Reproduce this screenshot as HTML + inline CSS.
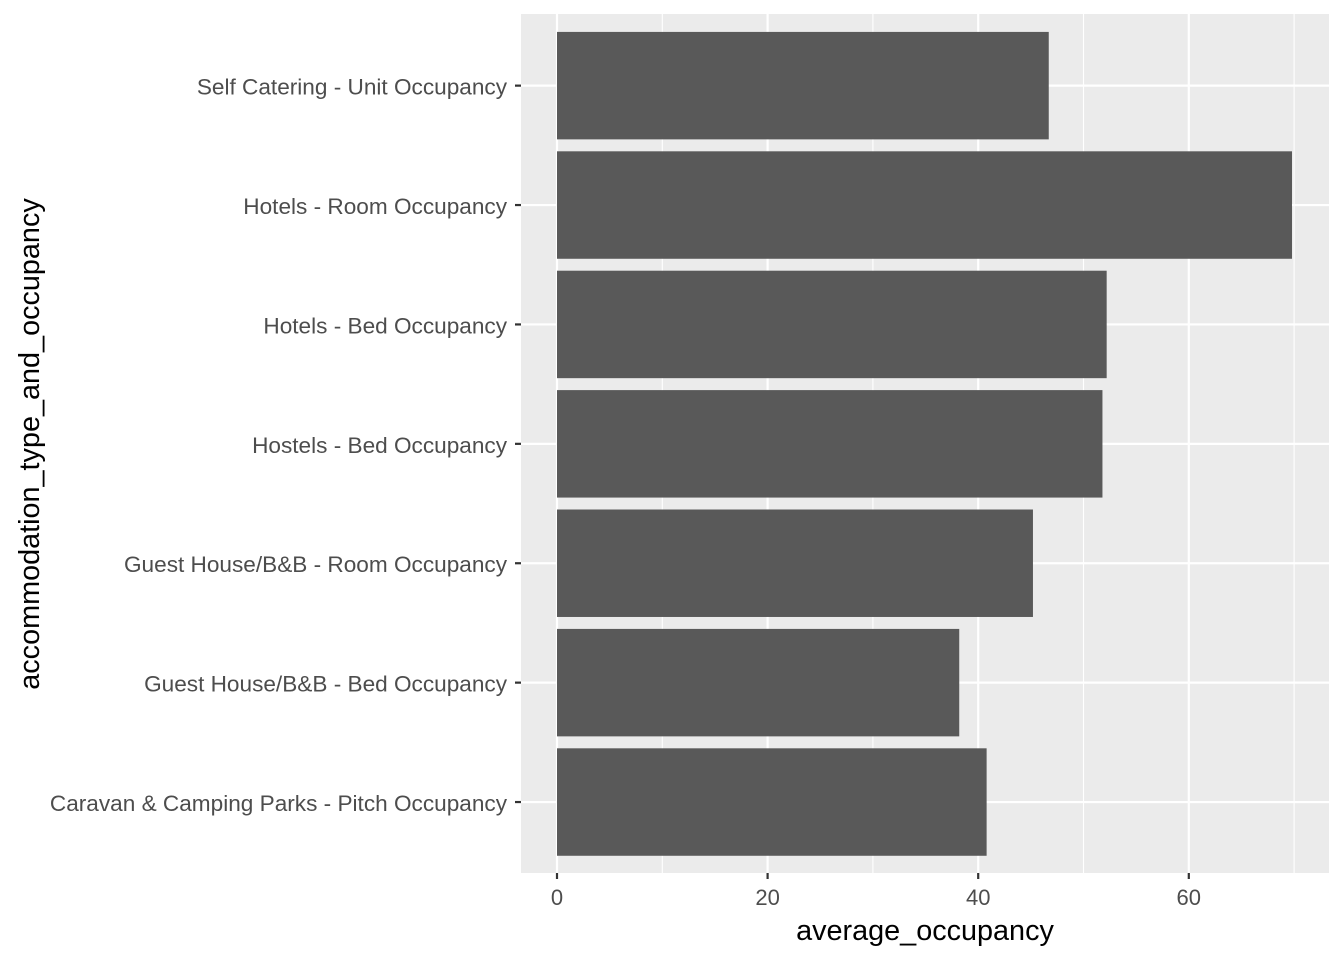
<!DOCTYPE html>
<html><head><meta charset="utf-8"><style>
body{margin:0;background:#fff;}
svg text{font-family:"Liberation Sans",Arial,sans-serif;}
</style></head><body>
<svg id="chart" width="1344" height="960">
<rect x="521" y="14" width="808" height="859" fill="#EBEBEB"/>
<g id="grid"></g><g id="bars"></g><g id="axes"></g>
<text x="925" y="940" font-size="28.8" text-anchor="middle" fill="#000">average_occupancy</text>
<text transform="translate(39,444) rotate(-90)" font-size="28.8" text-anchor="middle" fill="#000">accommodation_type_and_occupancy</text>
</svg>
<script>
const categories=["Self Catering - Unit Occupancy","Hotels - Room Occupancy","Hotels - Bed Occupancy","Hostels - Bed Occupancy","Guest House/B&B - Room Occupancy","Guest House/B&B - Bed Occupancy","Caravan & Camping Parks - Pitch Occupancy"];
const values=[46.7,69.8,52.2,51.8,45.2,38.2,40.8];
const xTicks=[0,20,40,60];
const xMinor=[10,30,50,70];
const NS="http://www.w3.org/2000/svg";
const x0=557,pxPer=10.53;
const X=v=>x0+v*pxPer;
const panelTop=14,step=119.4;
const Y=i=>panelTop+step*(0.6+i);
function mk(tag,attrs,parent){const e=document.createElementNS(NS,tag);for(const k in attrs)e.setAttribute(k,attrs[k]);document.getElementById(parent).appendChild(e);return e;}
xMinor.forEach(v=>{const l=mk('line',{x1:X(v),x2:X(v),y1:14,y2:873,stroke:'#fff','stroke-width':1.1},'grid');

});
xTicks.forEach(v=>{const l=mk('line',{x1:X(v),x2:X(v),y1:14,y2:873,stroke:'#fff','stroke-width':2.2},'grid');


const t=mk('line',{x1:X(v),x2:X(v),y1:873,y2:879,stroke:'#333','stroke-width':2.2},'axes');


const tx=mk('text',{x:X(v),y:905,'font-size':22,'text-anchor':'middle',fill:'#4D4D4D'},'axes');tx.textContent=v;

});
categories.forEach((c,i)=>{const y=Y(i);
const g=mk('line',{x1:521,x2:1329,y1:y,y2:y,stroke:'#fff','stroke-width':2.2},'grid');


const b=mk('rect',{x:X(0),y:y-step*0.45,width:X(values[i])-X(0),height:step*0.9,fill:'#595959'},'bars');


const t=mk('line',{x1:515,x2:521,y1:y,y2:y,stroke:'#333','stroke-width':2.2},'axes');


const tx=mk('text',{x:507,y:y+9,'font-size':22.6,'text-anchor':'end',fill:'#4D4D4D'},'axes');tx.textContent=c;

});
</script>
</body></html>
